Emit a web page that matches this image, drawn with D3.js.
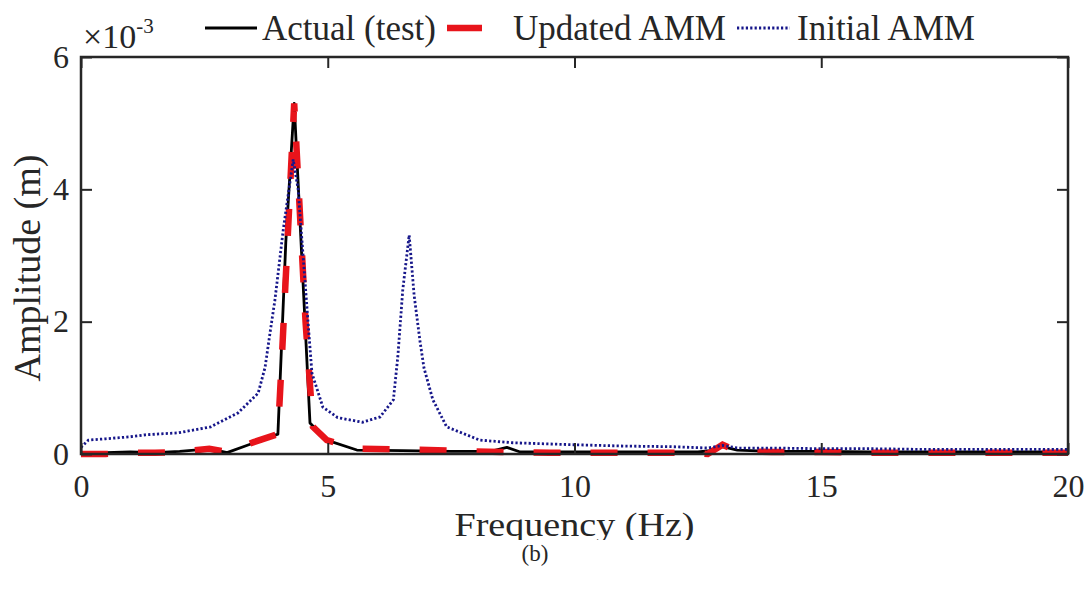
<!DOCTYPE html>
<meta charset="utf-8">
<script src="https://d3js.org/d3.v7.min.js"></script>
<style>
  body { margin: 0; background: #fff; }
  text { font-family: "Liberation Serif", "Times New Roman", serif; fill: #262626; }
</style>
<div id="chart"></div>
<script>
// Frequency response data (amplitude in units of 1e-3 m)
const actualFreq = [0, 0.5, 1.0, 1.5, 2.0, 2.3, 2.6, 2.96, 3.99, 4.15, 4.32, 4.64, 4.98, 5.59, 6.5, 7.5, 8.3, 8.63, 8.9, 9.5, 10.5, 11.5, 12.5, 12.75, 13.0, 13.3, 14, 15, 16, 17, 18, 19, 20];
const actualAmp  = [0, 0.02, 0.03, 0.02, 0.04, 0.06, 0.08, 0.02, 0.30, 3.2, 5.30, 0.47, 0.21, 0.06, 0.05, 0.04, 0.04, 0.10, 0.03, 0.03, 0.03, 0.03, 0.03, 0.05, 0.11, 0.06, 0.04, 0.04, 0.03, 0.03, 0.03, 0.03, 0.03];

const updatedFreq = [0, 0.5, 1.0, 1.5, 2.0, 2.6, 2.96, 3.5, 3.99, 4.08, 4.32, 4.55, 4.7, 4.98, 5.6, 6.5, 7.5, 8.5, 9.5, 10.5, 11.5, 12.4, 12.7, 13.0, 13.3, 14, 15, 16, 17, 18, 19, 20];
const updatedAmp  = [0, 0.0, 0.02, 0.02, 0.03, 0.08, 0.03, 0.18, 0.30, 1.6, 5.3, 2.0, 0.41, 0.21, 0.08, 0.07, 0.05, 0.03, 0.02, 0.02, 0.02, 0.02, 0.0, 0.14, 0.04, 0.03, 0.03, 0.02, 0.02, 0.02, 0.02, 0.02];

const initialFreq = [0, 0.15, 0.5, 1.0, 1.3, 1.97, 2.63, 3.18, 3.59, 3.73, 3.83, 3.93, 4.1, 4.3, 4.4, 4.5, 4.6, 4.68, 4.9, 5.2, 5.7, 6.06, 6.33, 6.42, 6.52, 6.65, 6.75, 6.87, 6.95, 7.13, 7.41, 8.08, 8.75, 9.97, 11, 12, 12.7, 13.0, 13.3, 14, 15, 16, 17, 18, 19, 20];
const initialAmp  = [0.1, 0.21, 0.23, 0.26, 0.29, 0.32, 0.41, 0.62, 0.92, 1.31, 1.83, 2.33, 3.4, 4.45, 4.0, 3.0, 2.0, 1.22, 0.71, 0.55, 0.48, 0.56, 0.82, 1.47, 2.48, 3.31, 2.4, 1.7, 1.3, 0.82, 0.41, 0.21, 0.17, 0.14, 0.12, 0.11, 0.09, 0.13, 0.09, 0.09, 0.08, 0.08, 0.07, 0.07, 0.07, 0.07];

const xTicks = [0, 5, 10, 15, 20];
const yTicks = [0, 2, 4, 6];
const legendLabels = ["Actual (test)", "Updated AMM", "Initial AMM"];

// layout
const W = 1091, H = 591;
const plot = {left: 81, right: 1068, top: 57, bottom: 454};

const svg = d3.select("#chart").append("svg")
    .attr("width", W).attr("height", H)
    .style("background", "#fff");

const x = d3.scaleLinear().domain([0, 20]).range([plot.left, plot.right]);
const y = d3.scaleLinear().domain([0, 6]).range([plot.bottom, plot.top]);

const zip = (f, a) => f.map((v, i) => [v, a[i]]);
const line = d3.line().x(d => x(d[0])).y(d => y(d[1]));

// curves: black below, red dashed, blue dotted on top
svg.append("path").datum(zip(actualFreq, actualAmp))
    .attr("d", line).attr("fill", "none")
    .attr("stroke", "#000").attr("stroke-width", 2.8)
    .attr("stroke-linejoin", "round");

svg.append("path").datum(zip(updatedFreq, updatedAmp))
    .attr("d", line).attr("fill", "none")
    .attr("stroke", "#e8141b").attr("stroke-width", 6.5)
    .attr("stroke-dasharray", "27 30");

svg.append("path").datum(zip(initialFreq, initialAmp))
    .attr("d", line).attr("fill", "none")
    .attr("stroke", "#16168a").attr("stroke-width", 2.8)
    .attr("stroke-dasharray", "2.2 2.2");

// axes with inward ticks
const fs = 32;
const fmt = d3.format("d");
const xAxis = svg.append("g").attr("transform", `translate(0,${plot.bottom})`)
    .call(d3.axisBottom(x).tickValues(xTicks).tickFormat(fmt).tickSizeInner(-11).tickSizeOuter(0).tickPadding(20));
const xTop = svg.append("g").attr("transform", `translate(0,${plot.top})`)
    .call(d3.axisTop(x).tickValues(xTicks).tickSizeInner(-11).tickSizeOuter(0).tickFormat(""));
const yAxis = svg.append("g").attr("transform", `translate(${plot.left},0)`)
    .call(d3.axisLeft(y).tickValues(yTicks).tickFormat(fmt).tickSizeInner(-11).tickSizeOuter(0).tickPadding(12));
const yRight = svg.append("g").attr("transform", `translate(${plot.right},0)`)
    .call(d3.axisRight(y).tickValues(yTicks).tickSizeInner(-11).tickSizeOuter(0).tickFormat(""));

[xAxis, xTop, yAxis, yRight].forEach(g => {
    g.select(".domain").remove();
    g.selectAll("line").attr("stroke", "#262626").attr("stroke-width", 2);
    g.selectAll("text").style("font-size", fs + "px").style("font-family", "Liberation Serif").attr("fill", "#262626");
});

svg.append("rect")
    .attr("x", plot.left).attr("y", plot.top)
    .attr("width", plot.right - plot.left).attr("height", plot.bottom - plot.top)
    .attr("fill", "none").attr("stroke", "#262626").attr("stroke-width", 2.5);

// exponent label
const expo = svg.append("text").attr("x", 83).attr("y", 48).style("font-size", "34px");
expo.append("tspan").text("×10");
expo.append("tspan").attr("dy", -15).style("font-size", "21px").text("-3");

// axis titles
svg.append("text")
    .attr("x", (plot.left + plot.right) / 2).attr("y", 536)
    .attr("text-anchor", "middle").style("font-size", "34px")
    .attr("textLength", 240).attr("lengthAdjust", "spacingAndGlyphs")
    .text("Frequency (Hz)");

svg.append("text")
    .attr("transform", `translate(40,268) rotate(-90)`)
    .attr("text-anchor", "middle").style("font-size", "38px")
    .text("Amplitude (m)");

// cropped bottom edge of the figure, then caption
svg.append("rect").attr("x", 0).attr("y", 540).attr("width", W).attr("height", H - 540).attr("fill", "#fff");
svg.append("text")
    .attr("x", 535).attr("y", 561)
    .attr("text-anchor", "middle").style("font-size", "23px").attr("fill", "#000")
    .text("(b)");

// legend
const legend = svg.append("g");
const legendItems = [
    {label: legendLabels[0], x1: 205, x2: 257, tx: 262, stroke: "#000", w: 2.8, dash: null},
    {label: legendLabels[1], x1: 447, x2: 482, tx: 513, stroke: "#e8141b", w: 6.5, dash: null},
    {label: legendLabels[2], x1: 737, x2: 790, tx: 797, stroke: "#16168a", w: 2.8, dash: "2.2 2.2"}
];
legendItems.forEach(d => {
    legend.append("line")
        .attr("x1", d.x1).attr("x2", d.x2).attr("y1", 28).attr("y2", 28)
        .attr("stroke", d.stroke).attr("stroke-width", d.w)
        .attr("stroke-dasharray", d.dash);
    legend.append("text")
        .attr("x", d.tx).attr("y", 40)
        .style("font-size", "35px").attr("fill", "#000")
        .text(d.label);
});
</script>
